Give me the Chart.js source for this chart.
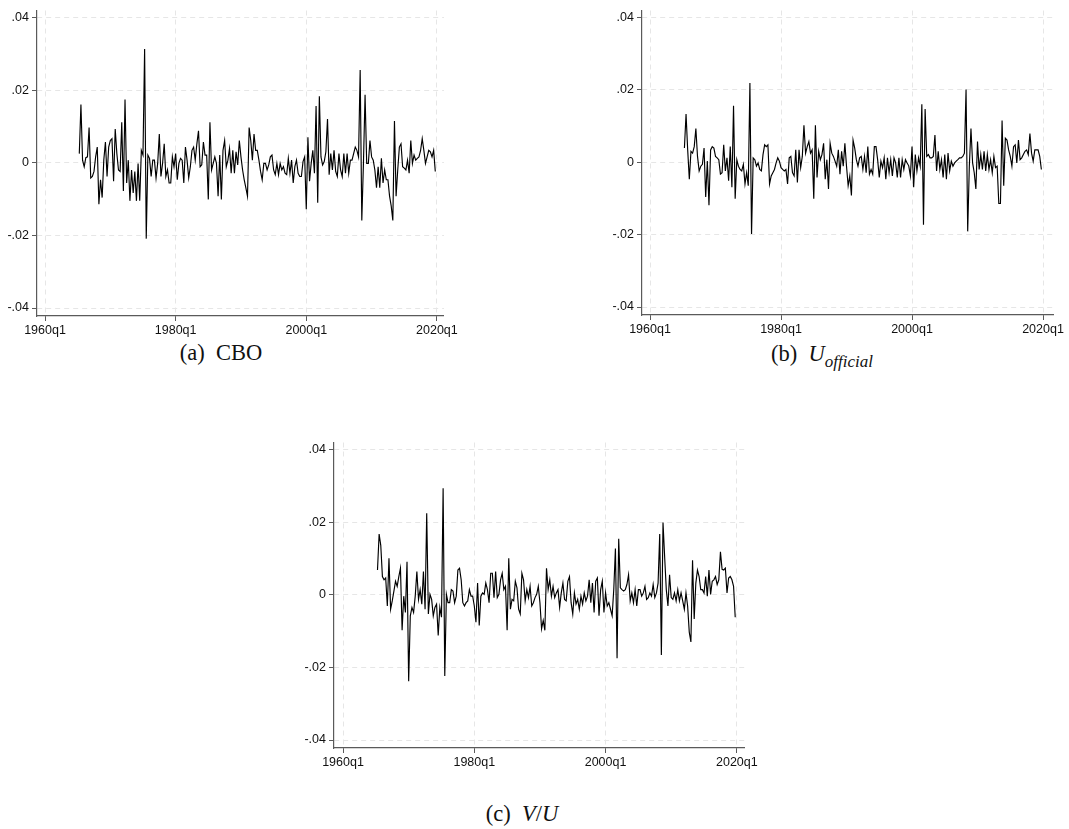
<!DOCTYPE html>
<html>
<head>
<meta charset="utf-8">
<script src="https://cdn.jsdelivr.net/npm/chart.js@4.4.1/dist/chart.umd.min.js"></script>
<style>
  body { margin: 0; background: #fff; }
  #wrap { position: relative; width: 1069px; height: 829px; background: #fff; }
  canvas { position: absolute; }
  .cap { position: absolute; font-family: "Liberation Serif", serif; font-size: 22.5px; color: #111; white-space: nowrap; transform: translateX(-50%); }
  .cap i { font-style: italic; }
  .cap sub { font-size: 17px; vertical-align: -6px; line-height: 0; }
</style>
</head>
<body>
<div id="wrap">
  <canvas id="cbo" width="460" height="340" style="left:0;top:0"></canvas>
  <canvas id="uoff" width="469" height="340" style="left:600px;top:0"></canvas>
  <canvas id="vu" width="460" height="340" style="left:300px;top:432px"></canvas>
  <div class="cap" style="left:221px;top:340px">(a)&nbsp; CBO</div>
  <div class="cap" style="left:822px;top:341px">(b)&nbsp; <i>U</i><sub><i>official</i></sub></div>
  <div class="cap" style="left:522px;top:801px">(c)&nbsp; <i>V</i>/<i>U</i></div>
</div>
<script>
"use strict";

// series start in 1965q2, one value per quarter up to 2019q4
const firstQuarter = '1965q2';

const cboValues = [
  .0025, .016, .0007, -.0011, .0014, .0016, .0097, -.0042, -.0038, -.0024,
  .0016, .0043, -.0114, -.0047, -.0096, .0007, .0057, -.0038, .0043, .0061,
  .0066, -.0051, .0093, .0025, -.002, -.0024, .0111, -.0078, .0174, -.0056,
  .0007, -.0105, -.002, -.0083, -.0024, -.0105, -.0002, -.0105, .0034, .0021,
  .0313, -.0209, .0021, .0012, -.0038, .0007, .0007, -.0042, -.0002, .0079,
  -.0038, -.0002, .0052, -.0038, -.002, -.0056, -.0056, .0016, -.0011, .0025,
  -.0047, -.0002, .0012, .0007, -.0056, .0043, .0007, -.0042, -.0011, .0034,
  .0043, .0007, .0052, .0088, -.0011, -.0006, .0057, .0021, .0021, -.0101,
  .0111, -.002, -.0002, .0016, -.0002, -.0092, .0021, -.0101, .0034, .0061,
  -.0011, .0007, .0039, -.0029, .0034, -.0029, .003, -.0006, .0061, .0016,
  -.002, -.0047, -.0069, -.0092, .0097, .0061, .0007, .0079, .0034, .0034,
  .0007, -.0024, -.0047, -.0002, -.0002, -.002, -.0006, .0016, .0021, -.002,
  -.0033, -.0002, -.0033, -.0002, -.002, -.0011, -.0029, -.0033, .0012, -.0029,
  .0007, -.0056, -.0011, .0007, -.0029, -.0038, -.0038, .0003, .0016, -.0128,
  .007, -.0051, -.0002, .0034, -.0029, .0156, -.011, .0183, .0016, -.0006,
  .0003, .003, .012, -.0033, .0025, -.002, .0034, -.0024, -.0038, .0025,
  -.002, -.0038, .0025, -.0029, .0025, -.0029, .0007, .0007, .0025, .0043,
  .0034, .0016, .0255, -.0159, -.0002, .0187, -.0002, -.0002, .0061, .0016,
  .0007, -.002, -.0069, -.0011, -.0069, .0012, -.0056, -.002, -.0047, -.0047,
  -.0092, -.0119, -.0159, .0115, -.0092, -.002, .0043, .0052, -.0011, -.0015,
  -.002, .0007, -.0029, .0061, -.0002, .0021, .0007, .0012, .0016, .0034,
  .0066, .0034, -.0002, .0016, .0034, .003, .0016, .0034, -.0024
];

const uOfficialValues = [
  .0039, .0133, .0034, -.0047, .003, .0025, .0043, .0093, .0016, -.0024,
  -.0011, -.0006, .0039, -.0096, .0003, -.0119, .0034, .0043, .0039, .0016,
  .0012, .0007, -.0033, -.0029, .0048, -.0024, .0012, -.0051, .0043, -.0069,
  .0156, -.0101, .0007, -.0011, -.002, -.0024, -.0006, -.006, -.0029, -.0065,
  .0219, -.0198, .0012, .0007, -.0011, -.0002, -.002, -.0024, .0021, .0048,
  .0043, .0048, -.006, -.0038, -.0029, -.002, -.0002, .0012, .0003, -.0015,
  -.002, -.0024, -.002, -.006, .0012, .0016, -.0029, -.0038, .0034, -.0056,
  .0034, -.0015, .0016, .0102, .0025, .0043, .0057, .0025, .0034, -.0101,
  .0102, -.0042, .003, .0007, .0021, .0052, -.0047, .0007, -.0074, .0052,
  .0025, .0016, .0003, -.0011, .0034, -.0033, .003, -.0011, .0052, -.0011,
  -.0065, -.0038, -.0092, .0061, .0039, .0007, -.0011, .0012, .0016, -.002,
  .0016, -.0029, .0043, -.0033, -.002, -.0033, .0043, .0043, .0007, -.0042,
  .0003, -.0015, .0012, -.0047, .0012, -.0029, .0007, -.0038, .0012, -.0002,
  -.0042, .0012, -.0042, .0007, -.002, .0007, -.0002, -.001, -.0038, .0043,
  -.0069, .0021, -.0024, .0012, -.0011, .016, -.0173, .0147, .0016, .0021,
  .0012, .0012, .0016, .0075, -.0024, .003, -.002, .0007, -.0042, .0021,
  -.0047, .0025, -.0024, .0003, -.0011, -.0002, .0003, .0007, .0012, .0012,
  .0016, .0025, .0201, -.0191, -.0011, .0093, -.0002, -.0029, -.0074, .0057,
  -.002, .0021, -.002, .003, -.0024, .0021, -.002, .0007, -.0029, .0016,
  -.0015, -.0011, -.0114, -.0114, .0115, -.0065, .0066, .0061, .0034, .0016,
  -.0011, .0043, .0048, -.0002, .0061, .0007, .0012, .0021, .003, .0034,
  .0021, .0079, .0025, .0003, .0034, .0034, .0034, .0016, -.002
];

const vuValues = [
  .0068, .0167, .0136, .005, .0041, .0046, -.0031, .01, -.004, -.0017,
  .001, .0037, .0023, .005, .0073, -.0098, -.0004, -.0049, .0091, -.0238,
  -.0058, -.0035, -.0049, -.0004, .0064, -.0013, .0014, -.0026, .0064, -.004,
  .0224, -.0053, .0001, -.0013, -.0058, -.0035, -.0026, -.0112, -.0035, -.0062,
  .0293, -.0224, .0001, -.0022, -.0022, .0014, .001, -.0022, -.0004, .0068,
  .0073, .0041, -.0022, -.0031, -.0022, -.0017, .0014, -.0004, -.0004, -.0031,
  -.0076, .0032, -.0085, -.0004, .0005, .0001, .0032, .0014, -.0022, .0059,
  .0059, -.0008, .0064, -.0008, .0001, .0041, .0059, .0014, .0023, -.0098,
  .01, -.004, -.0013, -.0017, .0037, .0019, -.004, -.0053, .0059, .0041,
  -.0017, .0014, -.0008, .0023, -.0031, -.0022, -.0008, .0001, .0023, -.0022,
  -.0094, -.0071, -.0098, .0073, .0014, .0041, -.0004, .0023, -.0008, .0005,
  .0014, -.0035, .0005, .0032, -.0013, -.0017, .0037, .005, -.0022, -.0053,
  .0005, -.0026, -.0013, -.004, -.0004, -.0026, .0005, -.0017, -.0004, .0041,
  -.0022, .0032, -.0049, .0037, .0046, -.0058, .0014, .0037, -.0049, .0005,
  -.0031, -.0022, -.004, -.0058, .0015, .0127, -.0175, .0154, .0019, .0014,
  .001, .0014, .0028, .0055, -.0017, .0005, -.0022, .0014, -.0031, .0014,
  .0014, -.0004, .0005, .0023, -.0013, -.0008, .0005, -.0004, .0028, -.0008,
  .0005, .0032, .0167, -.0166, .0199, .0104, .0014, -.0031, .0055, -.0008,
  -.0013, .0005, -.0017, .0014, -.0017, .0005, -.0017, -.004, .0005, -.0031,
  -.0103, -.013, .0095, -.0067, .0032, .0068, .005, .0014, .0014, .0005,
  .005, -.0004, .0068, .0001, .0037, .0041, .005, .0028, .0041, .0118,
  .007, .0068, .0073, .0005, .0046, .005, .0041, .0023, -.0062
];

const xTickLabels = ['1960q1', '1980q1', '2000q1', '2020q1'];
const yTickValues = [-0.04, -0.02, 0, 0.02, 0.04];
const yTickLabels = ['-.04', '-.02', '0', '.02', '.04'];

// quarters counted from 1960q1
function quarterIndex(label) {
  const [y, q] = label.split('q').map(Number);
  return (y - 1960) * 4 + (q - 1);
}
function quarterLabel(idx) {
  return `${1960 + Math.floor(idx / 4)}q${(idx % 4) + 1}`;
}
function toPoints(values) {
  const start = quarterIndex(firstQuarter);
  return values.map((v, i) => ({ x: start + i, y: v }));
}

const axisFont = { family: '"Liberation Sans", Arial, sans-serif', size: 12.5 };
const gridColor = '#e6e6e6';
const axisColor = '#5a5a5a';

function makePanel(id, values, frame) {
  new Chart(document.getElementById(id), {
    type: 'line',
    data: {
      datasets: [{
        data: toPoints(values),
        borderColor: '#000',
        borderWidth: 1.15,
        pointRadius: 0,
        tension: 0,
        fill: false
      }]
    },
    options: {
      responsive: false,
      animation: false,
      events: [],
      layout: { padding: { left: 0, right: frame.padRight, top: frame.padTop, bottom: 0 } },
      plugins: { legend: { display: false }, tooltip: { enabled: false } },
      scales: {
        x: {
          type: 'linear',
          min: frame.xMin,
          max: frame.xMax,
          afterBuildTicks: s => { s.ticks = xTickLabels.map(l => ({ value: quarterIndex(l) })); },
          afterFit: s => { s.height = frame.xHeight; },
          ticks: { autoSkip: false, maxRotation: 0, padding: 2, color: '#111', font: axisFont,
                   callback: v => quarterLabel(v) },
          grid: { color: gridColor, lineWidth: 1, tickLength: 5, tickColor: axisColor, tickWidth: 1,
                  tickBorderDash: [10, 0] },
          border: { color: axisColor, width: 1.2, dash: [5, 4] }
        },
        y: {
          min: frame.yMin,
          max: frame.yMax,
          afterBuildTicks: s => { s.ticks = yTickValues.map(v => ({ value: v })); },
          afterFit: s => { s.width = frame.yWidth; },
          ticks: { padding: 3, color: '#111', font: axisFont,
                   callback: (v, i) => yTickLabels[i] },
          grid: { color: gridColor, lineWidth: 1, tickLength: 5, tickColor: axisColor, tickWidth: 1,
                  tickBorderDash: [10, 0] },
          border: { color: axisColor, width: 1.2, dash: [5, 4] }
        }
      }
    }
  });
}

makePanel('cbo', cboValues, { yWidth: 37, padRight: 13, padTop: 5, xHeight: 24,
  xMin: -4.9, xMax: 244.3, yMin: -0.0422, yMax: 0.0419 });
makePanel('uoff', uOfficialValues, { yWidth: 42, padRight: 16, padTop: 4, xHeight: 25,
  xMin: -4.9, xMax: 246.1, yMin: -0.0422, yMax: 0.0419 });
makePanel('vu', vuValues, { yWidth: 34, padRight: 15, padTop: 5, xHeight: 24,
  xMin: -5.5, xMax: 244.9, yMin: -0.0422, yMax: 0.0419 });
</script>
</body>
</html>
